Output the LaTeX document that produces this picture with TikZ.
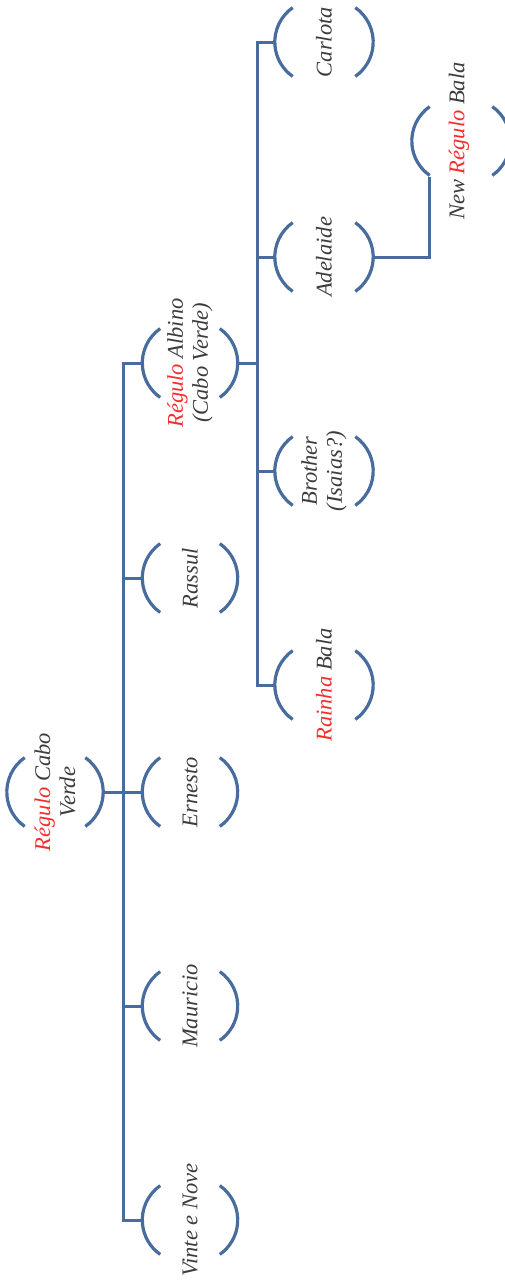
\documentclass[tikz,border=0pt]{standalone}
\usepackage{fontspec}
\setmainfont{Liberation Serif}
\definecolor{lineblue}{RGB}{72,108,158}
\definecolor{txtgray}{RGB}{60,60,60}
\definecolor{regred}{RGB}{245,45,45}
\newcommand{\rd}[1]{\textcolor{regred}{#1}}
\tikzset{
  personA/.style={draw=none, minimum width=96pt, minimum height=69pt, inner sep=0pt, shape=rectangle},
  personB/.style={personA, minimum width=95pt},
  personC/.style={personA, minimum width=98pt},
  ptext/.style={rotate=90, align=center, inner sep=0pt, text=txtgray,
    font=\fontsize{22.5}{25}\selectfont\itshape},
  link/.style={draw=lineblue, line width=3pt},
  arcline/.style={draw=lineblue, line width=3.2pt, line cap=butt}
}
\begin{document}
\begin{tikzpicture}[x=1pt,y=1pt]
\useasboundingbox (0,0) rectangle (504,-1286);
% nodes (frames)
\node[personA] (root) at (55,-792) {};
\node[personB] (albino) at (190,-363) {};
\node[personB] (rassul) at (190,-578) {};
\node[personB] (ernesto) at (190,-792) {};
\node[personB] (mauricio) at (190,-1006) {};
\node[personB] (vinte) at (190,-1220) {};
\node[personC] (carlota) at (324,-42) {};
\node[personC] (adelaide) at (324,-257) {};
\node[personC] (brother) at (324,-471) {};
\node[personC] (rainha) at (324,-685) {};
\node[personC] (newreg) at (461,-141) {};
% texts
\node[ptext] (root-t) at (root) {\rd{Régulo} Cabo\\Verde};
\node[ptext] (albino-t) at (albino) {\rd{Régulo} Albino\\(Cabo Verde)};
\node[ptext] (rassul-t) at (rassul) {Rassul};
\node[ptext] (ernesto-t) at (ernesto) {Ernesto};
\node[ptext] (mauricio-t) at (mauricio) {Mauricio};
\node[ptext] (vinte-t) at (vinte) {Vinte e Nove};
\node[ptext] (carlota-t) at (carlota) {Carlota};
\node[ptext] (adelaide-t) at (adelaide) {Adelaide};
\node[ptext] (brother-t) at (brother) {Brother\\(Isaias?)};
\node[ptext] (rainha-t) at (rainha) {\rd{Rainha} Bala};
\node[ptext] (newreg-t) at ([xshift=-2pt]newreg.center) {New \rd{Régulo} Bala};
% bracket arcs
\foreach \n in {root,albino,rassul,ernesto,mauricio,vinte,carlota,adelaide,brother,rainha,newreg}{
  \draw[arcline] ([xshift=17.9pt,yshift=34.4pt]\n.west) arc[start angle=125,end angle=235,radius=42pt];
  \draw[arcline] ([xshift=-17.9pt,yshift=34.4pt]\n.east) arc[start angle=55,end angle=-55,radius=42pt];
}
% connectors
\coordinate (t1top) at (123,-363);
\coordinate (t1bot) at (123,-1220);
\draw[link] (root.east) -- (ernesto.west);
\draw[link] (albino.west) -| (t1top) -- (t1bot) -- (vinte.west);
\draw[link] (rassul.west) -- (rassul.west -| t1top);
\draw[link] (mauricio.west) -- (mauricio.west -| t1top);
\coordinate (t2top) at (257.5,-42);
\coordinate (t2bot) at (257.5,-685);
\draw[link] (carlota.west) -- (t2top) -- (t2bot) -- (rainha.west);
\draw[link] (albino.east) -- (albino.east -| t2top);
\draw[link] (adelaide.west) -- (adelaide.west -| t2top);
\draw[link] (brother.west) -- (brother.west -| t2top);
\coordinate (newtip) at ([xshift=17.9pt,yshift=-34.4pt]newreg.west);
\draw[link] (adelaide.east) -| ([yshift=-1.5pt]newtip);
\end{tikzpicture}
\end{document}
